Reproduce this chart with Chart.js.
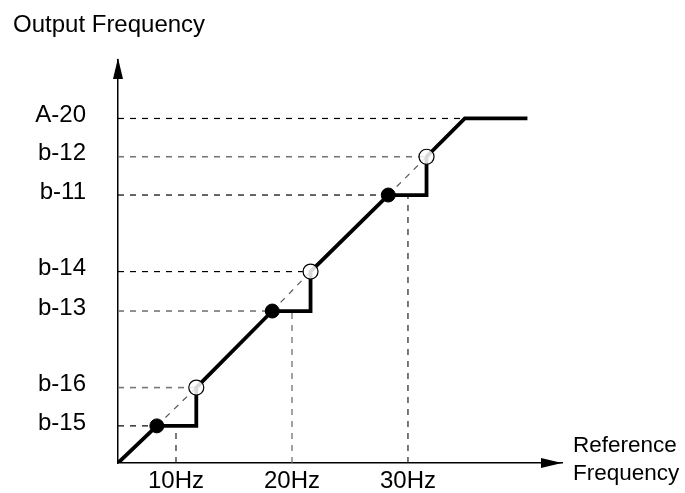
<!DOCTYPE html>
<html>
<head>
<meta charset="utf-8">
<script src="https://cdn.jsdelivr.net/npm/chart.js@4.4.1/dist/chart.umd.min.js"></script>
<style>
  html, body { margin: 0; padding: 0; background: #fff; }
  #chart { display: block; }
</style>
</head>
<body>
<canvas id="chart" width="685" height="493"></canvas>
<script>
// axis ranges (reference Hz / output level, same units)
const xMin = 5, xMax = 43.28;
const yMin = 5, yMax = 39.74;
const xTicks = [10, 20, 30];

// output levels on the y axis
const levelNames = ['b-15', 'b-16', 'b-13', 'b-14', 'b-11', 'b-12', 'A-20'];
const levelValues = [8.2, 11.5, 18.1, 21.5, 28.1, 31.4, 34.7];
// reference frequency where the curve reaches each level
const levelRefs = [8.35, 11.75, 18.3, 21.6, 28.3, 31.6, 34.9];

// output curve
const curveRef = [5, 8.35, 11.75, 11.75, 18.3, 21.6, 21.6, 28.3, 31.6, 31.6, 34.9, 40.3];
const curveOut = [5, 8.2, 8.2, 11.5, 18.1, 18.1, 21.5, 28.1, 28.1, 31.4, 34.7, 34.7];

// hold points (filled) and jump points (open)
const holdRef = [8.35, 18.3, 28.3];
const holdOut = [8.2, 18.1, 28.1];
const jumpRef = [11.75, 21.6, 31.6];
const jumpOut = [11.5, 21.5, 31.4];

const FONT = 'Liberation Sans, Arial, sans-serif';
const grayLevels = ['b-16', 'b-13', 'b-12'];

const pts = (xs, ys) => xs.map((x, i) => ({ x, y: ys[i] }));

const datasets = [];

// horizontal guide lines from the y axis to the curve
levelNames.forEach((name, i) => {
  datasets.push({
    data: [{ x: xMin, y: levelValues[i] }, { x: levelRefs[i], y: levelValues[i] }],
    borderColor: grayLevels.includes(name) ? '#777' : '#000',
    borderWidth: grayLevels.includes(name) ? 1.6 : 1.2,
    borderDash: [6, 6],
    pointRadius: 0,
    order: 6,
  });
});

// vertical guide lines from the x ticks up to the hold level
xTicks.forEach((t, i) => {
  datasets.push({
    data: [{ x: t, y: yMin }, { x: t, y: holdOut[i] }],
    borderColor: i === 1 ? '#666' : '#222',
    borderWidth: 1.2,
    borderDash: [6, 6],
    pointRadius: 0,
    order: 6,
  });
});

// skipped diagonal between hold and jump
holdRef.forEach((x, i) => {
  datasets.push({
    data: [{ x, y: holdOut[i] }, { x: jumpRef[i], y: jumpOut[i] }],
    borderColor: '#555',
    borderWidth: 1.2,
    borderDash: [6, 6],
    pointRadius: 0,
    order: 5,
  });
});

// main curve
datasets.push({
  data: pts(curveRef, curveOut),
  borderColor: '#000',
  borderWidth: 3.8,
  borderJoinStyle: 'miter',
  pointRadius: 0,
  order: 3,
});

// jump points (open)
datasets.push({
  data: pts(jumpRef, jumpOut),
  showLine: false,
  pointRadius: 7.5,
  pointBackgroundColor: 'rgba(255,255,255,0.85)',
  pointBorderColor: '#000',
  pointBorderWidth: 1.2,
  order: 2,
});

// hold points (filled)
datasets.push({
  data: pts(holdRef, holdOut),
  showLine: false,
  pointRadius: 7,
  pointBackgroundColor: '#000',
  pointBorderColor: '#000',
  pointBorderWidth: 1,
  order: 1,
});

const decorPlugin = {
  id: 'decor',
  afterDraw(chart) {
    const { ctx, chartArea: a } = chart;
    ctx.save();
    ctx.fillStyle = '#000';
    // y axis arrow
    ctx.beginPath();
    ctx.moveTo(a.left, a.top - 2);
    ctx.lineTo(a.left - 5, a.top + 19);
    ctx.lineTo(a.left + 5, a.top + 19);
    ctx.closePath();
    ctx.fill();
    // x axis arrow
    ctx.beginPath();
    ctx.moveTo(a.right, a.bottom);
    ctx.lineTo(a.right - 21, a.bottom - 5);
    ctx.lineTo(a.right - 21, a.bottom + 5);
    ctx.closePath();
    ctx.fill();
    // axis titles
    ctx.textAlign = 'left';
    ctx.textBaseline = 'alphabetic';
    ctx.font = '24px ' + FONT;
    ctx.fillText('Output Frequency', 13, 32);
    ctx.font = '22.5px ' + FONT;
    ctx.fillText('Reference', 573, 452);
    ctx.fillText('Frequency', 573, 480);
    ctx.restore();
  },
};

// keep tick label padding from pushing the plot area around
const noEdgePadding = (scale) => {
  scale.paddingTop = 0;
  scale.paddingBottom = 0;
  scale.paddingLeft = 0;
  scale.paddingRight = 0;
};

new Chart(document.getElementById('chart'), {
  type: 'scatter',
  data: { datasets: datasets.map(d => ({ showLine: true, fill: false, tension: 0, ...d })) },
  options: {
    responsive: false,
    animation: false,
    events: [],
    layout: { padding: { left: 0, top: 60, right: 123, bottom: 0 } },
    plugins: {
      legend: { display: false },
      tooltip: { enabled: false },
    },
    scales: {
      x: {
        type: 'linear',
        min: xMin,
        max: xMax,
        afterFit: (scale) => { scale.height = 30; noEdgePadding(scale); },
        afterBuildTicks: (scale) => { scale.ticks = xTicks.map(v => ({ value: v })); },
        grid: { display: false, drawTicks: false },
        border: { display: true, color: '#000', width: 1.5 },
        ticks: {
          autoSkip: false,
          maxRotation: 0,
          padding: 4,
          color: '#000',
          font: { family: FONT, size: 24 },
          callback: (v) => v + 'Hz',
        },
      },
      y: {
        type: 'linear',
        min: yMin,
        max: yMax,
        afterFit: (scale) => { scale.width = 118; noEdgePadding(scale); },
        afterBuildTicks: (scale) => { scale.ticks = levelValues.map(v => ({ value: v })); },
        grid: { display: false, drawTicks: false },
        border: { display: true, color: '#000', width: 1.5 },
        ticks: {
          autoSkip: false,
          padding: 32,
          labelOffset: -3,
          color: '#000',
          font: { family: FONT, size: 24 },
          callback: (v, i) => levelNames[i],
        },
      },
    },
  },
  plugins: [decorPlugin],
});
</script>
</body>
</html>
